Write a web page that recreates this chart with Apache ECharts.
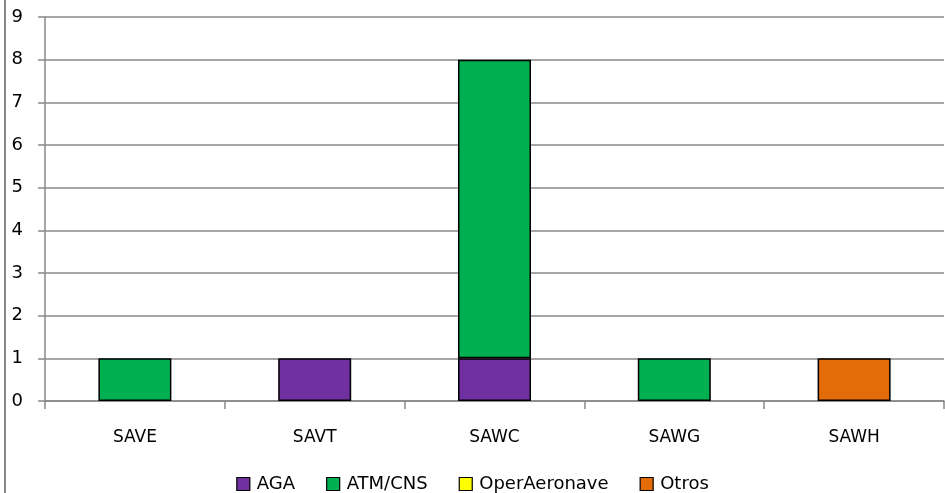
<!DOCTYPE html>
<html>
<head>
<meta charset="utf-8">
<script src="https://cdn.jsdelivr.net/npm/echarts@6/dist/echarts.min.js"></script>
<style>html,body{margin:0;padding:0;background:#fff}#c{width:945px;height:493px}</style>
</head>
<body>
<div id="c"></div>
<script>
const categories = ['SAVE', 'SAVT', 'SAWC', 'SAWG', 'SAWH'];
const seriesNames = ['AGA', 'ATM/CNS', 'OperAeronave', 'Otros'];
const aga = [0, 1, 1, 0, 0];
const atmCns = [1, 0, 7, 1, 0];
const operAeronave = [0, 0, 0, 0, 0];
const otros = [0, 0, 0, 0, 1];
const yTicks = [0, 1, 2, 3, 4, 5, 6, 7, 8, 9];
const colors = ['#7030A0', '#00B050', '#FFFF00', '#E36C09'];

const values = [aga, atmCns, operAeronave, otros];
const chart = echarts.init(document.getElementById('c'));
const font = "'DejaVu Sans', 'Liberation Sans', sans-serif";
chart.setOption({
  animation: false,
  textStyle: { fontFamily: font },
  grid: { left: 45, right: 1, top: 17, bottom: 92, containLabel: false },
  legend: {
    top: 474,
    padding: 0,
    left: 'center',
    icon: 'rect',
    itemWidth: 13,
    itemHeight: 13,
    itemGap: 31,
    textStyle: { fontSize: 18, lineHeight: 20, color: '#000', fontFamily: font, padding: [0, 0, 0, 2] },
    data: seriesNames.map((n, i) => ({ name: n, itemStyle: { color: colors[i], borderColor: '#000', borderWidth: 1.2 } }))
  },
  xAxis: {
    type: 'category',
    data: categories,
    axisLine: { lineStyle: { color: '#888', width: 1.5 } },
    axisTick: { show: true, length: 8, lineStyle: { color: '#888', width: 1.5 } },
    axisLabel: { color: '#000', fontSize: 17, margin: 28, fontFamily: font }
  },
  yAxis: {
    type: 'value',
    min: yTicks[0],
    max: yTicks[yTicks.length - 1],
    interval: 1,
    axisLine: { show: true, lineStyle: { color: '#888', width: 1.5 } },
    axisTick: { show: true, length: 7, lineStyle: { color: '#888', width: 1.5 } },
    axisLabel: { color: '#000', fontSize: 18, margin: 22, fontFamily: font },
    splitLine: { lineStyle: { color: '#888', width: 1.5 } }
  },
  series: seriesNames.map((n, i) => ({
    name: n,
    type: 'bar',
    stack: 'total',
    barWidth: 73,
    itemStyle: { color: colors[i], borderColor: '#000', borderWidth: 1.5 },
    data: values[i].map(v => v === 0 ? '-' : v)
  })),
  graphic: [{
    type: 'line',
    shape: { x1: 5, y1: 0, x2: 5, y2: 493 },
    style: { stroke: '#888', lineWidth: 2 }
  }]
});
</script>
</body>
</html>
